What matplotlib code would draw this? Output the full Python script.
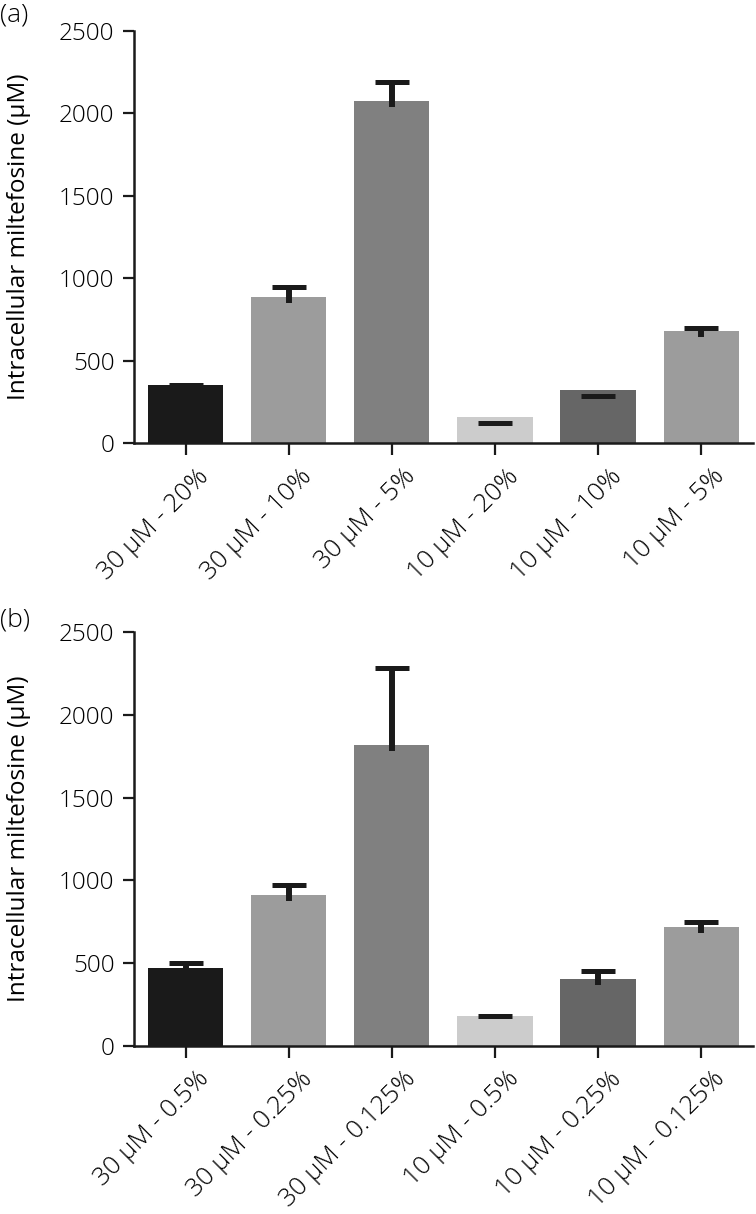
import numpy as np
import matplotlib
matplotlib.use("Agg")
import matplotlib.pyplot as plt
import matplotlib.transforms as mtransforms

plt.rcParams['font.family'] = ['Open Sans', 'DejaVu Sans']
plt.rcParams['font.weight'] = 'light'

# panel (a): serum concentration series
labels_a = ['30 µM - 20%', '30 µM - 10%', '30 µM - 5%',
            '10 µM - 20%', '10 µM - 10%', '10 µM - 5%']
values_a = [355, 889, 2075, 161, 323, 681]
err_a = [0, 56, 115, -38, -36, 18]

# panel (b): second series
labels_b = ['30 µM - 0.5%', '30 µM - 0.25%', '30 µM - 0.125%',
            '10 µM - 0.5%', '10 µM - 0.25%', '10 µM - 0.125%']
values_b = [468, 911, 1818, 180, 405, 720]
err_b = [31, 58, 465, 0, 44, 28]

bar_colors = ['#1a1a1a', '#9c9c9c', '#808080', '#cccccc', '#666666', '#9c9c9c']
ink = '#1a1a1a'
yticks = [0, 500, 1000, 1500, 2000, 2500]
ylabel = 'Intracellular miltefosine (µM)'


def draw_panel(fig, ax, labels, values, errs):
    x = np.arange(len(labels))
    ax.bar(x, values, width=0.73, color=bar_colors, zorder=2)

    # error bars: stem starts a little inside the bar, cap at mean + err
    overlap = 36
    for xi, v, e in zip(x, values, errs):
        if e > 0:
            ax.vlines(xi, v - overlap, v + e, color=ink, lw=4.3, zorder=3)
        ax.plot([xi], [v + e], marker='_', ms=25, mew=3.6, color=ink, zorder=4)

    ax.set_xlim(-0.5, len(labels) - 0.5)
    ax.set_ylim(0, 2500)
    ax.set_yticks(yticks)
    ax.set_xticks(x)
    ax.tick_params(axis='x', labelbottom=False, length=8.5, width=1.6, color=ink)
    ax.tick_params(axis='y', labelsize=17.5, length=8, width=1.6, pad=6, color=ink)

    # rotated category labels, top-right end just right of each tick
    off = mtransforms.ScaledTranslation(8 / 72, -15 / 72, fig.dpi_scale_trans)
    for xi, lab in zip(x, labels):
        ax.text(xi, 0, lab, transform=ax.get_xaxis_transform() + off,
                rotation=45, ha='right', va='top', rotation_mode='anchor',
                fontsize=18.5, clip_on=False)

    for s in ['top', 'right']:
        ax.spines[s].set_visible(False)
    for s in ['left', 'bottom']:
        ax.spines[s].set_linewidth(1.8)
        ax.spines[s].set_color(ink)
    ax.set_ylabel(ylabel, fontsize=17.5)
    ax.yaxis.set_label_coords(-0.166, 0.5)


fig = plt.figure(figsize=(7.56, 12.14), dpi=100)
ax1 = fig.add_axes([0.1772, 0.6348, 0.8185, 0.3397])
ax2 = fig.add_axes([0.1772, 0.1386, 0.8185, 0.3406])

draw_panel(fig, ax1, labels_a, values_a, err_a)
draw_panel(fig, ax2, labels_b, values_b, err_b)

fig.text(0.0, 0.988, '(a)', fontsize=19, ha='left', va='center')
fig.text(0.0, 0.489, '(b)', fontsize=19, ha='left', va='center')

fig.savefig('out.png', dpi=100)
